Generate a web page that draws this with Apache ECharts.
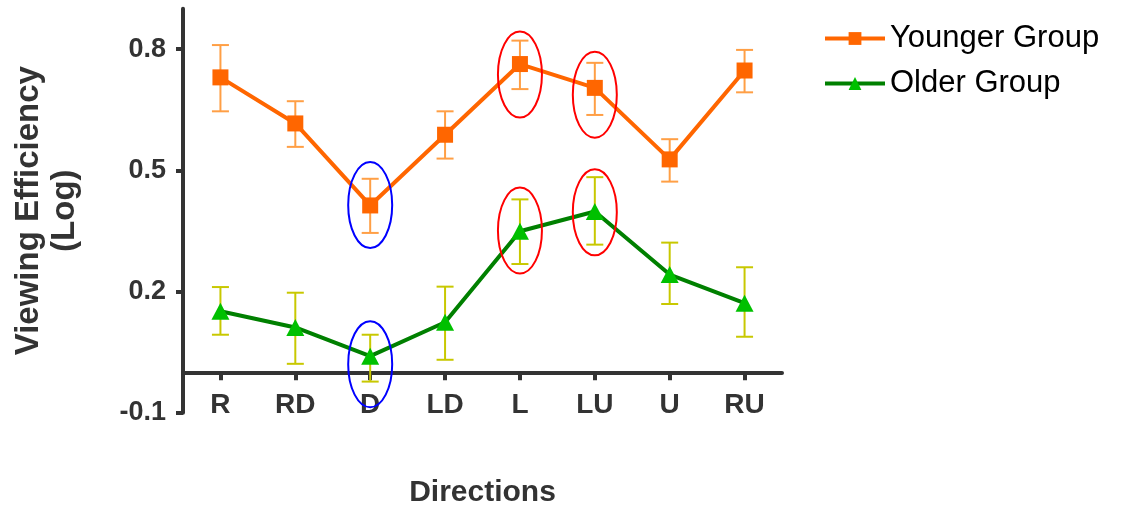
<!DOCTYPE html>
<html>
<head>
<meta charset="utf-8">
<script src="https://cdn.jsdelivr.net/npm/echarts@6/dist/echarts.min.js"></script>
<style>
html,body{margin:0;padding:0;background:#fff;}
#chart{width:1122px;height:510px;}
</style>
</head>
<body>
<div id="chart"></div>
<script>
const categories = ['R', 'RD', 'D', 'LD', 'L', 'LU', 'U', 'RU'];
const youngerMean = [0.730, 0.616, 0.413, 0.588, 0.763, 0.704, 0.527, 0.747];
const youngerLow  = [0.646, 0.558, 0.345, 0.529, 0.701, 0.637, 0.472, 0.693];
const youngerHigh = [0.810, 0.671, 0.479, 0.646, 0.821, 0.766, 0.577, 0.798];
const olderMean = [0.151, 0.111, 0.040, 0.124, 0.349, 0.398, 0.242, 0.171];
const olderLow  = [0.093, 0.021, -0.023, 0.031, 0.268, 0.316, 0.169, 0.088];
const olderHigh = [0.211, 0.197, 0.093, 0.212, 0.428, 0.483, 0.321, 0.260];
const yTicks = [-0.1, 0.2, 0.5, 0.8];
const yMin = -0.1;
const yMax = 0.9;
// highlight ellipses: [category, centre value]
const redHighlights = [['L', 0.737], ['LU', 0.687], ['L', 0.351], ['LU', 0.396]];
const blueHighlights = [['D', 0.414], ['D', 0.020]];

const FONT = "'Liberation Sans', Arial, sans-serif";
const AX = '#333333';

function errData(low, high) {
  return categories.map((c, i) => [i, low[i], high[i]]);
}
function errSeries(name, low, high, color) {
  return {
    type: 'custom',
    name: name + ' err',
    z: 1,
    silent: true,
    data: errData(low, high),
    renderItem: function (params, api) {
      const x = api.value(0);
      const lo = api.coord([x, api.value(1)]);
      const hi = api.coord([x, api.value(2)]);
      const w = 8.5;
      const st = { stroke: color, lineWidth: 2 };
      return {
        type: 'group',
        children: [
          { type: 'line', shape: { x1: lo[0], y1: lo[1], x2: hi[0], y2: hi[1] }, style: st },
          { type: 'line', shape: { x1: lo[0] - w, y1: lo[1], x2: lo[0] + w, y2: lo[1] }, style: st },
          { type: 'line', shape: { x1: hi[0] - w, y1: hi[1], x2: hi[0] + w, y2: hi[1] }, style: st }
        ]
      };
    }
  };
}
function ellipseSeries(list, color) {
  return {
    type: 'custom',
    z: 10,
    silent: true,
    data: list.map(d => [categories.indexOf(d[0]), d[1]]),
    renderItem: function (params, api) {
      const p = api.coord([api.value(0), api.value(1)]);
      return {
        type: 'ellipse',
        shape: { cx: p[0], cy: p[1], rx: 22, ry: 43 },
        style: { fill: null, stroke: color, lineWidth: 2 }
      };
    }
  };
}

const chart = echarts.init(document.getElementById('chart'));
chart.setOption({
  animation: false,
  backgroundColor: '#ffffff',
  grid: { left: 183, right: 340, top: 8.7, bottom: 97.3, containLabel: false, outerBoundsMode: 'none' },
  legend: {
    orient: 'vertical',
    left: 818,
    top: 18,
    itemWidth: 60,
    itemHeight: 16,
    itemGap: 14,
    textStyle: { fontFamily: FONT, fontSize: 31, color: '#000' },
    data: [
      { name: 'Younger Group', lineStyle: { width: 4 } },
      { name: 'Older Group', lineStyle: { width: 4 } }
    ]
  },
  xAxis: {
    type: 'category',
    data: categories,
    boundaryGap: true,
    axisLine: { onZero: true, lineStyle: { color: AX, width: 4 } },
    axisTick: { show: true, alignWithLabel: true, length: 8, lineStyle: { color: AX, width: 4 } },
    axisLabel: { fontFamily: FONT, fontSize: 28, fontWeight: 'bold', color: AX, margin: -21 },
    name: 'Directions',
    nameLocation: 'middle',
    nameGap: 65,
    nameMoveOverlap: false,
    nameTextStyle: { fontFamily: FONT, fontSize: 30, fontWeight: 'bold', color: AX }
  },
  yAxis: {
    type: 'value',
    min: yMin,
    max: yMax,
    splitLine: { show: false },
    axisLine: { show: true, onZero: false, lineStyle: { color: AX, width: 4 } },
    axisTick: { show: true, length: 7, customValues: yTicks, lineStyle: { color: AX, width: 4 } },
    axisLabel: {
      fontFamily: FONT, fontSize: 27, fontWeight: 'bold', color: AX, margin: 17,
      customValues: yTicks,
      formatter: v => (Math.round(v * 10) / 10).toFixed(1)
    },
    name: 'Viewing Efficiency\n(Log)',
    nameLocation: 'middle',
    nameRotate: 90,
    nameGap: 100,
    nameTextStyle: { fontFamily: FONT, fontSize: 33, fontWeight: 'bold', color: AX, lineHeight: 36, align: 'center' }
  },
  series: [
    errSeries('Younger Group', youngerLow, youngerHigh, '#ff9f45'),
    errSeries('Older Group', olderLow, olderHigh, '#c8c800'),
    {
      name: 'Younger Group',
      type: 'line',
      z: 3,
      data: youngerMean,
      symbol: 'rect',
      symbolSize: 16,
      lineStyle: { color: '#ff6600', width: 4 },
      itemStyle: { color: '#ff6600' }
    },
    {
      name: 'Older Group',
      type: 'line',
      z: 3,
      data: olderMean,
      symbol: 'triangle',
      symbolSize: [18, 17],
      lineStyle: { color: '#008000', width: 4 },
      itemStyle: { color: '#00c000' }
    },
    ellipseSeries(redHighlights, '#ff0000'),
    ellipseSeries(blueHighlights, '#0000ff')
  ]
});
</script>
</body>
</html>
